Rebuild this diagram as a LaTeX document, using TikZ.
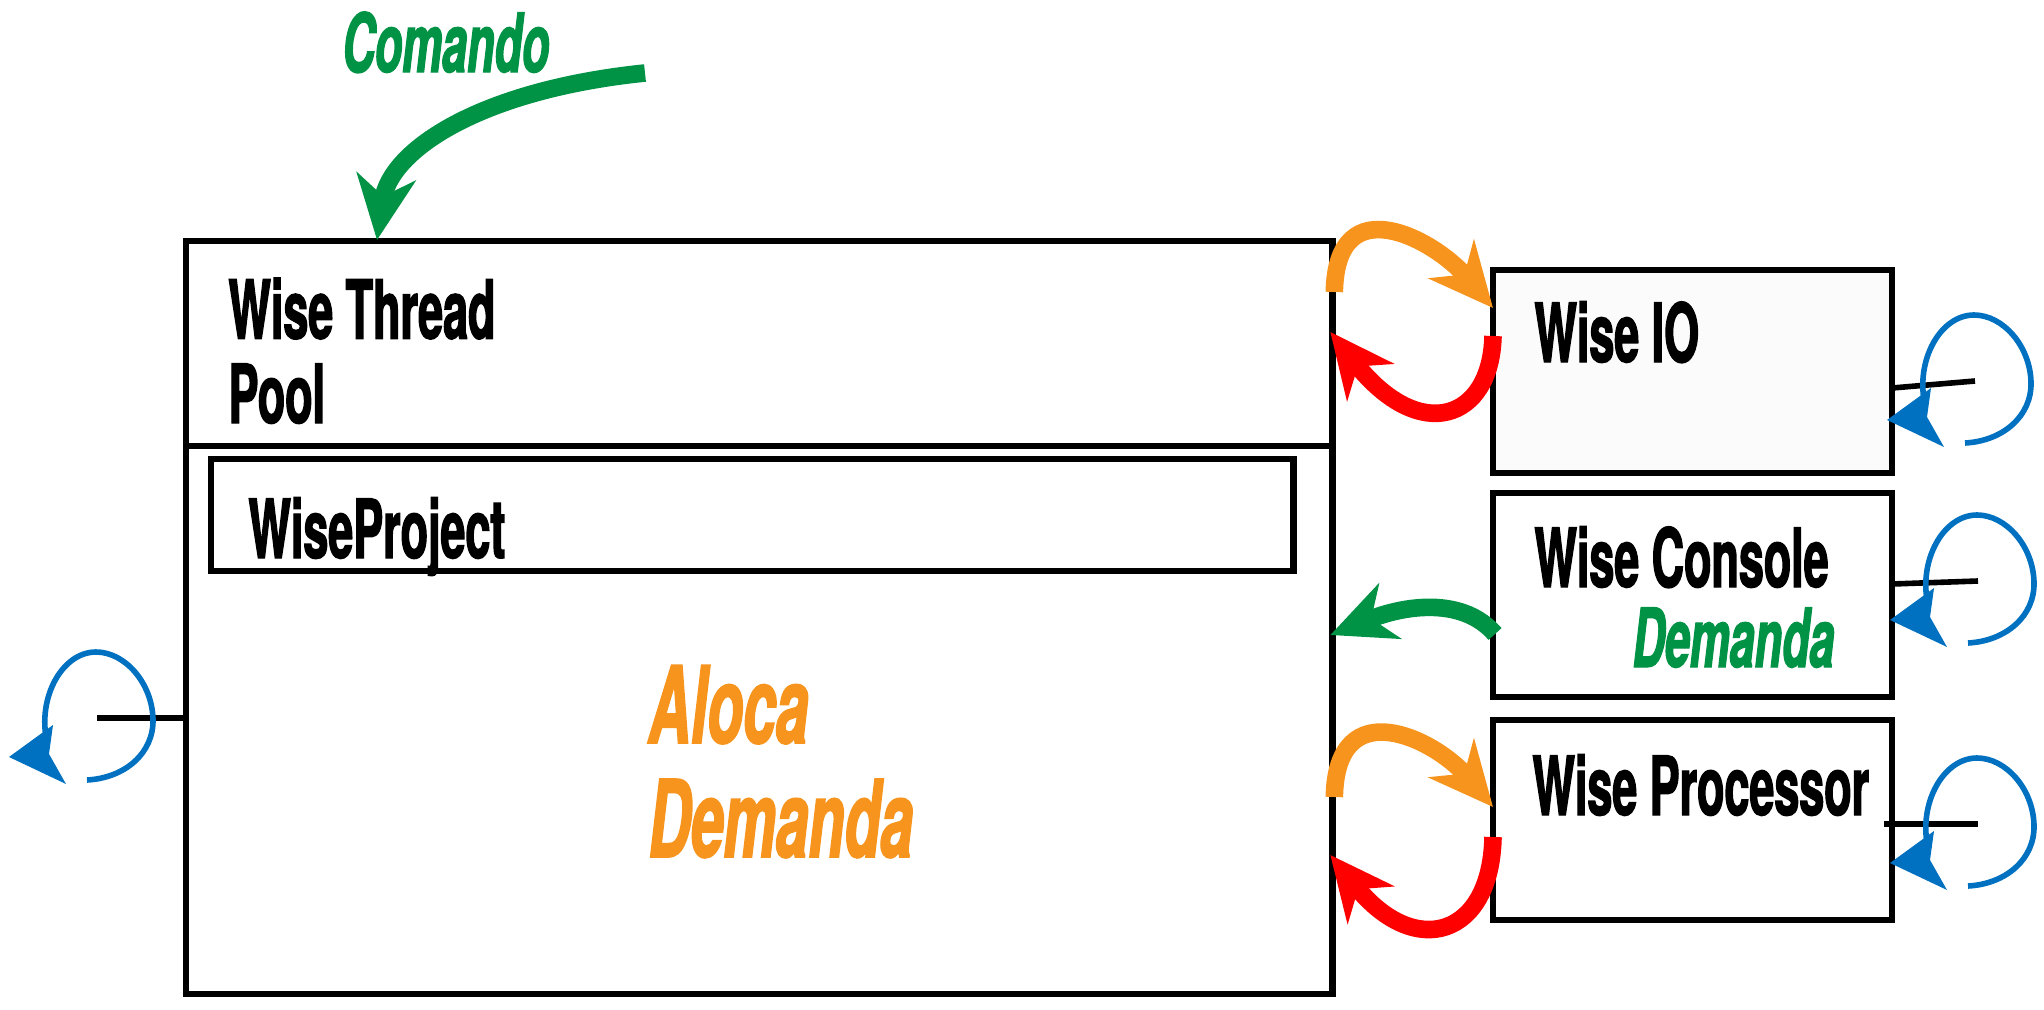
\documentclass[tikz,border=0pt]{standalone}
\usepackage{fontspec}
\newfontfamily\agency[FakeStretch=0.55,BoldFeatures={FakeBold=1.6},BoldItalicFeatures={FakeBold=1.6}]{TeX Gyre Heros}
\usepackage{tikz}
\usetikzlibrary{arrows.meta,calc}
\definecolor{cmdgreen}{HTML}{009245}
\definecolor{allocorange}{HTML}{F7941D}
\definecolor{backred}{HTML}{FF0000}
\definecolor{loopblue}{HTML}{0070C0}
\definecolor{iofill}{HTML}{FBFBFB}

\tikzset{selfloop/.pic={
  \draw[loopblue,line width=0.07cm] (-10,62) .. controls (28,60) and (57,35) .. (56,1)
    .. controls (55,-35) and (28,-66) .. (-1,-66)
    .. controls (-35,-66) and (-60,-20) .. (-50,24);
  \fill[loopblue] (-88,39) -- (-44,7) -- (-48,36) -- (-31,66) -- cycle;
}}

\begin{document}
\begin{tikzpicture}[x=0.0125cm,y=-0.0125cm,
  box/.style={draw,line width=0.08cm,inner sep=0pt,outer sep=0pt,anchor=north west},
  lbl/.style={font=\agency\bfseries\fontsize{29}{30}\selectfont,anchor=base west,inner sep=0pt,align=left},
  tag/.style={font=\agency\bfseries\itshape\fontsize{29}{30}\selectfont,anchor=base west,inner sep=0pt,align=left},
  bigarrow/.style={line width=0.22cm,-{Stealth[length=0.8cm,width=0.74cm,inset=0.25cm]}},
  stub/.style={line width=0.07cm}]
 \useasboundingbox (0,0) rectangle (2044,1009);
 % thread pool and its project
 \node[box,minimum width=14.325cm,minimum height=9.4125cm] (pool) at (186,241) {};
 \draw[line width=0.08cm] ($(pool.north west)+(0,205)$) -- ($(pool.north east)+(0,205)$);
 \node[lbl] (pool-txt) at (228,423) {Wise Thread\\Pool};
 \node[box,minimum width=13.525cm,minimum height=1.4cm] (proj) at (211,459) {};
 \node[lbl] (proj-txt) at (248,558) {WiseProject};
 \node[tag,allocorange,font=\agency\bfseries\itshape\fontsize{38}{40.5}\selectfont] (alloc) at (648,857) {Aloca\\Demanda};

 % side components
 \node[box,fill=iofill,minimum width=4.9875cm,minimum height=2.5375cm] (io) at (1493,270) {};
 \node[lbl] (io-txt) at (1534,362) {Wise IO};
 \node[box,minimum width=4.9875cm,minimum height=2.55cm] (console) at (1493,493) {};
 \node[lbl] (console-txt) at (1534,587) {Wise Console};
 \node[tag,cmdgreen] (demand-txt) at (1632,667) {Demanda};
 \node[box,minimum width=4.9875cm,minimum height=2.5cm] (proc) at (1493,720) {};
 \node[lbl] (proc-txt) at (1532,815) {Wise Processor};

 % incoming command
 \node[tag,cmdgreen] (cmd-txt) at (342,72) {Comando};
 \coordinate (cmd-start) at (645,73);
 \draw[bigarrow,cmdgreen] (cmd-start) .. controls (480,90) and (390,150) .. ($(pool.north west)+(191,-1)$);

 % exchanges with the pool
 \draw[bigarrow,allocorange] ($(pool.north east)+(2,51)$) .. controls +(2,-107) and +(-58,-68) .. ($(io.north west)+(0,38)$);
 \draw[bigarrow,backred] ($(io.north west)+(0,66)$) .. controls +(-2,84) and +(90,113) .. ($(pool.north east)+(-2,91)$);
 \draw[bigarrow,cmdgreen] ($(console.north west)+(2,141)$) .. controls +(-30,-35) and +(80,-32) .. ($(pool.north east)+(-2,394)$);
 \draw[bigarrow,allocorange] ($(pool.north east)+(2,556)$) .. controls +(2,-107) and +(-58,-68) .. ($(proc.north west)+(0,87)$);
 \draw[bigarrow,backred] ($(proc.north west)+(0,117)$) .. controls +(-2,100) and +(85,105) .. ($(pool.north east)+(-2,614)$);

 % self loops
 \foreach \b/\dx/\dy/\lx/\ly in {io/0/118/1975/381,console/0/91/1978/581,proc/-8/104/1978/824}{
  \coordinate (\b-loop) at (\lx,\ly);
  \draw[stub] ($(\b.north east)+(\dx,\dy)$) -- (\b-loop);
  \pic at (\b-loop) {selfloop};
 }
 \coordinate (pool-loop) at (97,718);
 \draw[stub] ($(pool.north west)+(0,477)$) -- (pool-loop);
 \pic at (pool-loop) {selfloop};
\end{tikzpicture}
\end{document}
